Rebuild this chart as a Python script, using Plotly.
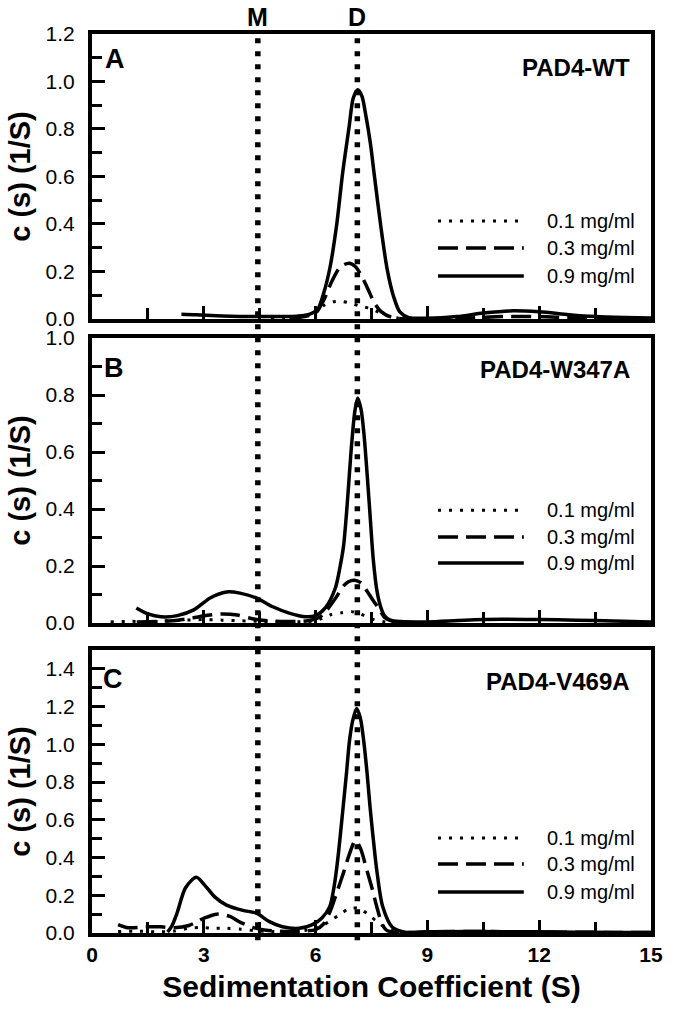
import plotly.graph_objects as go

# ---------------- data ----------------
conc_labels = ["0.1 mg/ml", "0.3 mg/ml", "0.9 mg/ml"]
panel_letters = ["A", "B", "C"]
panel_names = ["PAD4-WT", "PAD4-W347A", "PAD4-V469A"]
y_ranges = [[0, 1.2], [0, 1.0], [0, 1.5]]
x_tick_vals = [0, 3, 6, 9, 12, 15]
marker_lines = {"M": 4.45, "D": 7.12}

# Panel A  (PAD4-WT)
A01_s = [4.8, 5.2, 5.5, 5.8, 6.0, 6.2, 6.45, 6.7, 6.95, 7.2, 7.45, 7.7, 7.95, 8.2, 8.6]
A01_c = [0.0, 0.004, 0.008, 0.015, 0.03, 0.055, 0.072, 0.074, 0.066, 0.054, 0.045, 0.028, 0.012, 0.004, 0.0]
A03_s = [5.3, 5.7, 6.0, 6.22, 6.44, 6.67, 6.9, 7.07, 7.24, 7.41, 7.58, 7.75, 7.98, 8.2, 8.6, 10.0, 11.0, 12.0, 12.8, 14.0, 15.0]
A03_c = [0.003, 0.01, 0.025, 0.08, 0.16, 0.22, 0.235, 0.22, 0.18, 0.124, 0.067, 0.032, 0.011, 0.003, 0.0, 0.003, 0.01, 0.01, 0.006, 0.002, 0.0]
A09_s = [2.4, 2.8, 3.5, 4.5, 5.5, 5.8, 6.05, 6.22, 6.39, 6.56, 6.73, 6.9, 7.01, 7.13, 7.24, 7.35, 7.47, 7.58, 7.75, 7.92, 8.09, 8.26, 8.5, 9.0, 9.8, 10.5, 11.2, 12.0, 12.8, 13.5, 14.3, 15.0]
A09_c = [0.02, 0.018, 0.013, 0.01, 0.012, 0.018, 0.039, 0.11, 0.22, 0.39, 0.62, 0.81, 0.93, 0.965, 0.94, 0.855, 0.74, 0.6, 0.39, 0.21, 0.096, 0.03, 0.006, 0.003, 0.01, 0.025, 0.034, 0.03, 0.018, 0.01, 0.006, 0.004]

# Panel B  (PAD4-W347A)
B01_s = [0.5, 1.0, 1.5, 2.0, 2.5, 3.0, 3.5, 4.0, 4.5, 5.0, 5.5, 6.0, 6.2, 6.43, 6.7, 6.96, 7.2, 7.5, 7.8, 8.2, 9.0]
B01_c = [0.004, 0.006, 0.004, 0.007, 0.01, 0.012, 0.01, 0.008, 0.006, 0.004, 0.004, 0.008, 0.018, 0.03, 0.036, 0.04, 0.032, 0.015, 0.005, 0.0, 0.0]
B03_s = [1.2, 1.8, 2.3, 2.7, 3.1, 3.5, 3.9, 4.3, 4.7, 5.2, 5.8, 6.1, 6.3, 6.55, 6.75, 6.88, 7.05, 7.23, 7.36, 7.54, 7.72, 7.85, 8.1, 8.5]
B03_c = [0.004, 0.006, 0.01, 0.018, 0.027, 0.032, 0.028, 0.015, 0.008, 0.005, 0.008, 0.02, 0.045, 0.09, 0.13, 0.145, 0.15, 0.14, 0.116, 0.08, 0.046, 0.02, 0.005, 0.0]
B09_s = [1.19, 1.5, 1.85, 2.29, 2.73, 3.17, 3.61, 3.97, 4.41, 4.85, 5.29, 5.73, 6.0, 6.26, 6.53, 6.66, 6.75, 6.85, 6.95, 7.05, 7.13, 7.22, 7.3, 7.45, 7.55, 7.65, 7.75, 7.85, 8.0, 8.3, 9.0, 10.0, 11.0, 12.0, 13.0, 14.0, 15.0]
B09_c = [0.053, 0.032, 0.022, 0.026, 0.046, 0.088, 0.109, 0.105, 0.088, 0.057, 0.035, 0.022, 0.026, 0.053, 0.123, 0.2, 0.27, 0.42, 0.6, 0.74, 0.79, 0.75, 0.66, 0.40, 0.22, 0.11, 0.055, 0.025, 0.01, 0.005, 0.004, 0.01, 0.013, 0.012, 0.01, 0.007, 0.004]

# Panel C  (PAD4-V469A)
C01_s = [0.7, 1.2, 1.7, 2.2, 2.6, 2.9, 3.2, 3.6, 4.0, 4.4, 4.8, 5.2, 5.6, 6.0, 6.2, 6.43, 6.67, 6.9, 7.17, 7.43, 7.68, 7.86, 8.1, 8.4]
C01_c = [0.008, 0.01, 0.006, 0.01, 0.025, 0.03, 0.025, 0.025, 0.02, 0.012, 0.008, 0.006, 0.01, 0.025, 0.04, 0.07, 0.1, 0.13, 0.13, 0.095, 0.055, 0.03, 0.01, 0.0]
C03_s = [0.7, 0.97, 1.5, 1.85, 2.2, 2.6, 3.0, 3.35, 3.7, 3.97, 4.31, 4.67, 5.29, 6.0, 6.2, 6.38, 6.56, 6.75, 6.91, 7.07, 7.2, 7.38, 7.51, 7.64, 7.78, 7.9, 8.1, 8.5, 9.0, 10.0, 11.0, 12.0, 13.0, 14.0, 15.0]
C03_c = [0.045, 0.028, 0.033, 0.033, 0.028, 0.04, 0.078, 0.1, 0.088, 0.058, 0.03, 0.015, 0.008, 0.018, 0.045, 0.11, 0.21, 0.32, 0.42, 0.49, 0.45, 0.33, 0.24, 0.14, 0.05, 0.015, 0.004, 0.002, 0.006, 0.008, 0.007, 0.005, 0.004, 0.003, 0.002]
C09_s = [2.03, 2.15, 2.29, 2.51, 2.8, 3.04, 3.3, 3.61, 4.05, 4.41, 4.76, 5.11, 5.56, 5.9, 6.17, 6.38, 6.5, 6.6, 6.74, 6.83, 6.91, 7.0, 7.1, 7.2, 7.29, 7.38, 7.46, 7.6, 7.65, 7.8, 8.06, 8.4, 9.0, 10.0, 11.0, 12.0, 13.0, 14.0, 15.0]
C09_c = [0.005, 0.04, 0.11, 0.24, 0.295, 0.25, 0.19, 0.148, 0.12, 0.105, 0.06, 0.033, 0.025, 0.043, 0.08, 0.14, 0.25, 0.40, 0.67, 0.85, 1.02, 1.13, 1.19, 1.14, 1.02, 0.85, 0.67, 0.40, 0.32, 0.14, 0.03, 0.004, 0.006, 0.008, 0.007, 0.006, 0.004, 0.003, 0.002]

panels = [
    [(A01_s, A01_c), (A03_s, A03_c), (A09_s, A09_c)],
    [(B01_s, B01_c), (B03_s, B03_c), (B09_s, B09_c)],
    [(C01_s, C01_c), (C03_s, C03_c), (C09_s, C09_c)],
]

# ---------------- styling ----------------
FONT = "Liberation Sans"
line_styles = [
    dict(color="black", width=3, dash="3px,8px"),
    dict(color="black", width=3.5, dash="20px,8px"),
    dict(color="black", width=3.5, dash="solid"),
]
y_domains = [[0.683, 1.0], [0.3448, 0.6618], [0.0, 0.3148]]
legend_rows = [[0.344, 0.249, 0.151], [0.396, 0.302, 0.2105], [0.3357, 0.2438, 0.1449]]
letter_pos = [(0.042, 0.912), (0.040, 0.895), (0.037, 0.8975)]
name_y = [0.881, 0.891, 0.89]

fig = go.Figure()

for p, series in enumerate(panels):
    xa = "x" if p == 0 else f"x{p + 1}"
    ya = "y" if p == 0 else f"y{p + 1}"
    for k, (s, c) in enumerate(series):
        fig.add_trace(go.Scatter(
            x=s, y=c, mode="lines", name=conc_labels[k],
            line=dict(**line_styles[k], shape="spline", smoothing=0.8),
            xaxis=xa, yaxis=ya, showlegend=False, cliponaxis=True,
        ))

layout_axes = {}
for p in range(3):
    xkey = "xaxis" if p == 0 else f"xaxis{p + 1}"
    ykey = "yaxis" if p == 0 else f"yaxis{p + 1}"
    yanchor = "y" if p == 0 else f"y{p + 1}"
    xanchor = "x" if p == 0 else f"x{p + 1}"
    xdict = dict(
        domain=[0, 1], anchor=yanchor, range=[0, 15],
        showline=True, linewidth=4, linecolor="black", mirror=True,
        ticks="inside", ticklen=13, tickwidth=3, tickcolor="black",
        tickvals=x_tick_vals,
        minor=dict(tick0=0, dtick=1.5, ticks="inside", ticklen=11, tickwidth=3, tickcolor="black"),
        showgrid=False, zeroline=False, showticklabels=(p == 2),
        tickfont=dict(family=FONT, size=21, color="black", weight="bold"),
    )
    if p != 0:
        xdict["matches"] = "x"
    if p == 2:
        xdict["title"] = dict(text="Sedimentation Coefficient (S)", standoff=12,
                              font=dict(family=FONT, size=30, color="black", weight="bold"))
    layout_axes[xkey] = xdict
    layout_axes[ykey] = dict(
        domain=y_domains[p], anchor=xanchor, range=y_ranges[p],
        showline=True, linewidth=4, linecolor="black", mirror=True,
        ticks="inside", ticklen=13, tickwidth=3, tickcolor="black",
        tick0=0, dtick=0.2, tickformat=".1f", ticklabelstandoff=9,
        minor=dict(tick0=0, dtick=0.1, ticks="inside", ticklen=10, tickwidth=3, tickcolor="black"),
        showgrid=False, zeroline=False,
        tickfont=dict(family=FONT, size=21, color="black"),
        title=dict(text="c (s) (1/S)", standoff=7,
                   font=dict(family=FONT, size=29, color="black", weight="bold")),
    )

shapes = []
annotations = []
for lbl, sval in marker_lines.items():
    shapes.append(dict(type="line", xref="x", yref="paper", x0=sval, x1=sval,
                       y0=-0.008, y1=1.0045, layer="above",
                       line=dict(color="black", width=5.5, dash="5px,8px")))
    annotations.append(dict(text=lbl, xref="x", yref="paper", x=sval, y=1.019,
                            xanchor="center", yanchor="middle", showarrow=False,
                            font=dict(family=FONT, size=25, color="black", weight="bold")))

for p in range(3):
    xd = "x domain" if p == 0 else f"x{p + 1} domain"
    yd = "y domain" if p == 0 else f"y{p + 1} domain"
    annotations.append(dict(text=panel_letters[p], xref=xd, yref=yd,
                            x=letter_pos[p][0], y=letter_pos[p][1],
                            xanchor="center", yanchor="middle", showarrow=False,
                            font=dict(family=FONT, size=27, color="black", weight="bold")))
    annotations.append(dict(text=panel_names[p], xref=xd, yref=yd,
                            x=0.966, y=name_y[p], xanchor="right", yanchor="middle",
                            showarrow=False,
                            font=dict(family=FONT, size=24, color="black", weight="bold")))
    for k in range(3):
        yy = legend_rows[p][k]
        shapes.append(dict(type="line", xref=xd, yref=yd, x0=0.619, x1=0.7725,
                           y0=yy, y1=yy, line=line_styles[k]))
        annotations.append(dict(text=conc_labels[k], xref=xd, yref=yd, x=0.811, y=yy,
                                xanchor="left", yanchor="middle", showarrow=False,
                                font=dict(family=FONT, size=20, color="black")))

fig.update_layout(
    width=675, height=1018,
    margin=dict(l=92, r=16, t=34, b=85),
    paper_bgcolor="white", plot_bgcolor="white",
    font=dict(family=FONT, color="black"),
    showlegend=False,
    shapes=shapes, annotations=annotations,
    **layout_axes,
)

# remove the browser's default 8px page margin so the figure fills the window exactly
fig.write_html("out.html",
               config={"displayModeBar": False},
               post_script="document.body.style.margin='0';document.body.style.overflow='hidden';")
